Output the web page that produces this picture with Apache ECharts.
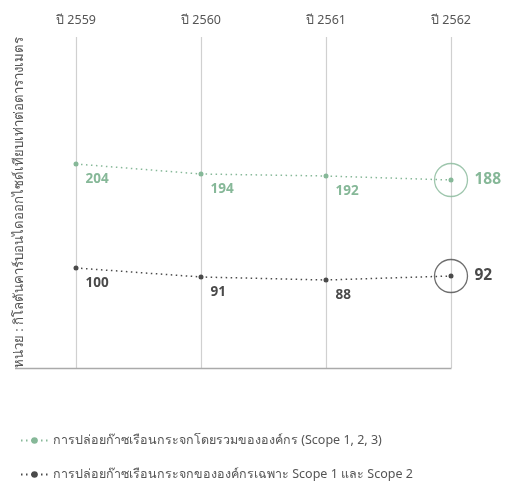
<!DOCTYPE html>
<html>
<head>
<meta charset="utf-8">
<script src="https://cdn.jsdelivr.net/npm/echarts@6/dist/echarts.min.js"></script>
<style>
  html, body { margin: 0; padding: 0; background: #fff; }
  #chart { width: 505px; height: 485px; }
</style>
</head>
<body>
<div id="chart"></div>
<script>
// Greenhouse-gas emissions by year
const years = ['ปี 2559', 'ปี 2560', 'ปี 2561', 'ปี 2562'];
const totalScope123 = [204, 194, 192, 188];
const scope12 = [100, 91, 88, 92];
const seriesNames = [
  'การปล่อยก๊าซเรือนกระจกโดยรวมขององค์กร (Scope 1, 2, 3)',
  'การปล่อยก๊าซเรือนกระจกขององค์กรเฉพาะ Scope 1 และ Scope 2'
];
const unitLabel = 'หน่วย : กิโลตันคาร์บอนไดออกไซด์เทียบเท่าต่อตารางเมตร';

const GREEN = '#86b898';
const DARK = '#4a4a4a';
const FONT = '"Noto Sans", "DejaVu Sans", sans-serif';

function lineSeries(name, values, color) {
  const last = values.length - 1;
  return {
    name: name,
    type: 'line',
    data: values.map((v, i) => i === last
      ? { value: v, label: { position: 'right', distance: 21, fontSize: 15.5 } }
      : v),
    symbol: 'circle',
    symbolSize: 5,
    itemStyle: { color: color },
    lineStyle: { color: color, type: [1.5, 3.5], width: 1.5 },
    label: {
      show: true,
      position: [12, 11],
      color: color,
      fontFamily: FONT,
      fontSize: 13.5,
      fontWeight: 'bold'
    },
    emphasis: { disabled: true },
    z: 3
  };
}

// Outline ring around the latest year's value
function ringSeries(values, color) {
  const last = values.length - 1;
  return {
    type: 'scatter',
    data: values.map((v, i) => i === last ? v : null),
    symbol: 'circle',
    symbolSize: 33,
    itemStyle: { color: 'rgba(0,0,0,0)', borderColor: color, borderWidth: 1.3 },
    silent: true,
    z: 2
  };
}

const chart = echarts.init(document.getElementById('chart'));
chart.setOption({
  animation: false,
  backgroundColor: '#fff',
  grid: { left: 76, right: 54, top: 37, bottom: 117 },
  xAxis: {
    type: 'category',
    position: 'top',
    data: years,
    boundaryGap: false,
    axisLine: { show: false },
    axisTick: { show: false },
    axisLabel: { color: '#555', fontFamily: FONT, fontSize: 12.5, margin: 10 },
    splitLine: { show: true, lineStyle: { color: '#d0d0d0', width: 1.2 } }
  },
  yAxis: {
    type: 'value',
    min: 0,
    max: 331,
    axisLine: { show: false },
    axisTick: { show: false },
    axisLabel: { show: false },
    splitLine: { show: false },
    name: unitLabel,
    nameLocation: 'middle',
    nameRotate: 90,
    nameGap: 50,
    nameTextStyle: { color: '#555', fontFamily: FONT, fontSize: 13.2 }
  },
  legend: {
    orient: 'vertical',
    left: 15,
    top: 429,
    height: 60,
    itemWidth: 27,
    itemHeight: 8,
    itemGap: 21,
    textStyle: { color: '#555', fontFamily: FONT, fontSize: 12.5 },
    data: seriesNames
  },
  series: [
    lineSeries(seriesNames[0], totalScope123, GREEN),
    lineSeries(seriesNames[1], scope12, DARK),
    ringSeries(totalScope123, GREEN),
    ringSeries(scope12, DARK)
  ]
});

// Baseline under the plot, running out to the unit label
const base = chart.convertToPixel({ gridIndex: 0 }, [years.length - 1, 0]);
chart.setOption({
  graphic: [{
    type: 'line',
    shape: { x1: 15, y1: base[1] + 0.5, x2: base[0] + 0.5, y2: base[1] + 0.5 },
    style: { stroke: '#aaa', lineWidth: 1.5 },
    silent: true
  }]
});
</script>
</body>
</html>
